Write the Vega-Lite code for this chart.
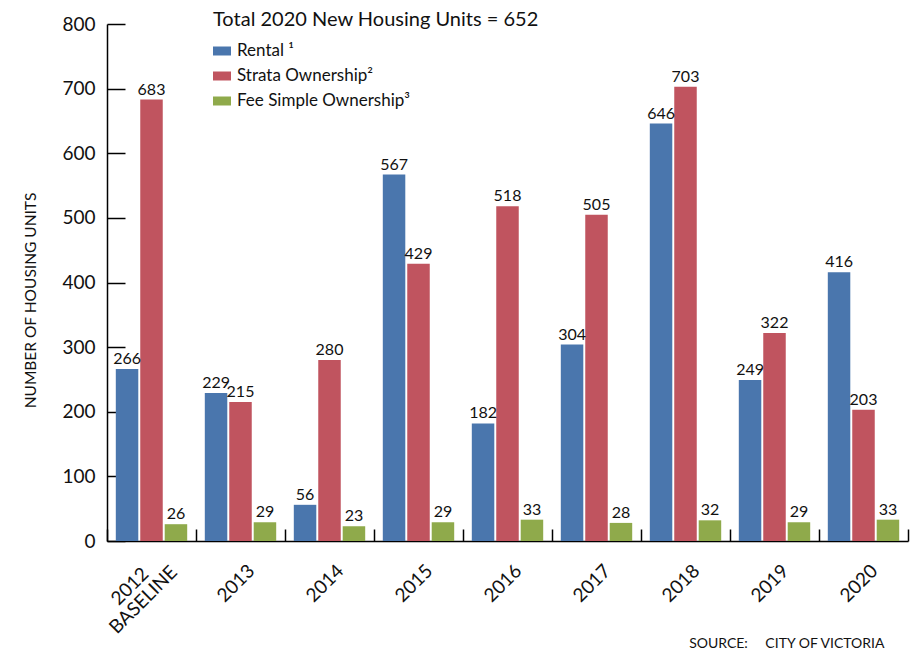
{
  "$schema": "https://vega.github.io/schema/vega-lite/v6.json",
  "autosize": "none",
  "width": 801,
  "height": 517,
  "padding": {"left": 107, "top": 24, "right": 9, "bottom": 111},
  "background": "white",
  "config": {
    "font": "Lato",
    "view": {"stroke": null}
  },
  "title": {
    "text": "Total 2020 New Housing Units = 652",
    "anchor": "start",
    "frame": "group",
    "dx": 106,
    "offset": -31,
    "baseline": "alphabetic",
    "fontSize": 20,
    "fontWeight": "normal",
    "color": "#111",
    "font": "Lato"
  },
  "data": {
    "values": [
      {"year": "2012 BASELINE", "type": "Rental ¹", "units": 266},
      {"year": "2012 BASELINE", "type": "Strata Ownership²", "units": 683},
      {"year": "2012 BASELINE", "type": "Fee Simple Ownership³", "units": 26},
      {"year": "2013", "type": "Rental ¹", "units": 229},
      {"year": "2013", "type": "Strata Ownership²", "units": 215},
      {"year": "2013", "type": "Fee Simple Ownership³", "units": 29},
      {"year": "2014", "type": "Rental ¹", "units": 56},
      {"year": "2014", "type": "Strata Ownership²", "units": 280},
      {"year": "2014", "type": "Fee Simple Ownership³", "units": 23},
      {"year": "2015", "type": "Rental ¹", "units": 567},
      {"year": "2015", "type": "Strata Ownership²", "units": 429},
      {"year": "2015", "type": "Fee Simple Ownership³", "units": 29},
      {"year": "2016", "type": "Rental ¹", "units": 182},
      {"year": "2016", "type": "Strata Ownership²", "units": 518},
      {"year": "2016", "type": "Fee Simple Ownership³", "units": 33},
      {"year": "2017", "type": "Rental ¹", "units": 304},
      {"year": "2017", "type": "Strata Ownership²", "units": 505},
      {"year": "2017", "type": "Fee Simple Ownership³", "units": 28},
      {"year": "2018", "type": "Rental ¹", "units": 646},
      {"year": "2018", "type": "Strata Ownership²", "units": 703},
      {"year": "2018", "type": "Fee Simple Ownership³", "units": 32},
      {"year": "2019", "type": "Rental ¹", "units": 249},
      {"year": "2019", "type": "Strata Ownership²", "units": 322},
      {"year": "2019", "type": "Fee Simple Ownership³", "units": 29},
      {"year": "2020", "type": "Rental ¹", "units": 416},
      {"year": "2020", "type": "Strata Ownership²", "units": 203},
      {"year": "2020", "type": "Fee Simple Ownership³", "units": 33}
    ]
  },
  "encoding": {
    "x": {
      "field": "year",
      "type": "nominal",
      "sort": null,
      "scale": {"paddingInner": 0, "paddingOuter": 0},
      "axis": {
        "title": "SOURCE:\u2003\u2002CITY OF VICTORIA",
        "titleAnchor": "end",
        "titleAlign": "right",
        "titleX": 777,
        "titleY": 106,
        "titleBaseline": "alphabetic",
        "titleFontSize": 14,
        "titleFontWeight": "normal",
        "titleColor": "#111",
        "labelAngle": -45,
        "labelAlign": "center",
        "labelBaseline": "middle",
        "labelOffset": {"condition": {"test": "datum.value == '2012 BASELINE'", "value": -22}, "value": -5},
        "labelPadding": {"condition": {"test": "datum.value == '2012 BASELINE'", "value": 57}, "value": 54},
        "labelFontSize": 19,
        "labelColor": "#111",
        "labelExpr": "datum.value == '2012 BASELINE' ? ['2012', 'BASELINE'] : datum.value",
        "labelLimit": 0,
        "tickBand": "extent",
        "tickSize": -12,
        "tickColor": "#000",
        "tickWidth": 1.5,
        "domainColor": "#000",
        "domainWidth": 1.5,
        "labelLineHeight": 19
      }
    },
    "xOffset": {
      "field": "type",
      "type": "nominal",
      "sort": ["Rental ¹", "Strata Ownership²", "Fee Simple Ownership³"],
      "scale": {"paddingInner": 0.08, "paddingOuter": 0.36}
    },
    "y": {
      "field": "units",
      "type": "quantitative",
      "scale": {"domain": [0, 800], "nice": false},
      "axis": {
        "values": [0, 100, 200, 300, 400, 500, 600, 700, 800],
        "grid": false,
        "title": "NUMBER OF HOUSING UNITS",
        "titleFontSize": 15.5,
        "titleFontWeight": "normal",
        "titleColor": "#111",
        "titleX": -77,
        "titleY": 276,
        "titleAngle": -90,
        "titleAlign": "center",
        "titleBaseline": "middle",
        "labelFontSize": 19,
        "labelColor": "#111",
        "labelPadding": 30,
        "tickSize": -18,
        "tickColor": "#000",
        "tickWidth": 1.5,
        "domainColor": "#000",
        "domainWidth": 1.5
      }
    }
  },
  "layer": [
    {
      "mark": {"type": "bar", "stroke": null},
      "encoding": {
        "color": {
          "field": "type",
          "type": "nominal",
          "sort": ["Rental ¹", "Strata Ownership²", "Fee Simple Ownership³"],
          "scale": {
            "domain": ["Rental ¹", "Strata Ownership²", "Fee Simple Ownership³"],
            "range": ["#4a76ad", "#c0545f", "#8faa4b"]
          },
          "legend": {
            "title": null,
            "orient": "none",
            "legendX": 106,
            "legendY": 18,
            "symbolType": "M-1,-0.5H1V0.5H-1Z",
            "symbolSize": 324,
            "symbolStrokeWidth": 0,
            "symbolOpacity": 1,
            "labelFontSize": 17,
            "labelColor": "#111",
            "labelOffset": 6,
            "labelLimit": 0,
            "rowPadding": 8
          }
        }
      }
    },
    {
      "mark": {"type": "text", "baseline": "alphabetic", "dy": -5, "fontSize": 16, "color": "#111"},
      "encoding": {
        "text": {"field": "units", "type": "quantitative"}
      }
    }
  ]
}
